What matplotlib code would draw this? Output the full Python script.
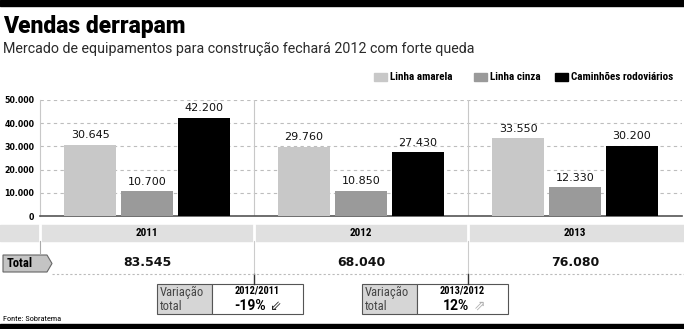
import matplotlib.pyplot as plt
from matplotlib.patches import Rectangle, Polygon

# dados
anos = ["2011", "2012", "2013"]
series = ["Linha amarela", "Linha cinza", "Caminhões rodoviários"]
linha_amarela = [30645, 29760, 33550]
linha_cinza = [10700, 10850, 12330]
caminhoes = [42200, 27430, 30200]
totais = [83545, 68040, 76080]
variacoes = [("2012/2011", "-19%", "⇙"), ("2013/2012", "12%", "⇗")]
yticks = [0, 10000, 20000, 30000, 40000, 50000]

cores = ["#c8c8c8", "#9a9a9a", "#000000"]
COND = ["Roboto Condensed", "Roboto", "DejaVu Sans"]
ROB = ["Roboto", "DejaVu Sans"]
LARGA = ["DejaVu Sans"]


def fmt(v):
    return f"{v:,}".replace(",", ".")


W, H = 684, 329
fig = plt.figure(figsize=(W / 100, H / 100), dpi=100)
fig.patch.set_facecolor("white")

# camada de desenho em pixels
ov = fig.add_axes([0, 0, 1, 1])
ov.set_xlim(0, W)
ov.set_ylim(H, 0)
ov.axis("off")

# faixas pretas de topo e base
ov.add_patch(Rectangle((0, 0), W, 6, color="black"))
ov.add_patch(Rectangle((0, 324), W, 5, color="black"))

ov.text(3, 33, "Vendas derrapam", fontsize=16.5, fontweight="black", family=ROB,
        va="baseline", ha="left")
ov.text(3, 53, "Mercado de equipamentos para construção fechará 2012 com forte queda",
        fontsize=10.3, family=ROB, color="#2a2a2a", va="baseline", ha="left")

# legenda
leg_x = [374, 474, 555]
for x, nome, c in zip(leg_x, series, cores):
    ov.add_patch(Rectangle((x, 73), 13, 8, color=c))
    ov.text(x + 16, 77.5, nome, fontsize=8, fontweight="bold", family=COND,
            va="center", ha="left")

# gráfico de barras
x0, x1, y0, y1 = 40, 682, 100, 216
ax = fig.add_axes([x0 / W, 1 - y1 / H, (x1 - x0) / W, (y1 - y0) / H])
ax.set_facecolor("none")
ax.set_xlim(-0.5, 2.5)
ax.set_ylim(0, 50000)
larg = 0.243
desl = 0.266
for i, (vals, c) in enumerate(zip([linha_amarela, linha_cinza, caminhoes], cores)):
    pos = [k + (i - 1) * desl for k in range(len(anos))]
    ax.bar(pos, vals, width=larg, color=c, zorder=3)
    for p, v in zip(pos, vals):
        ax.text(p, v + 2000, fmt(v), ha="center", va="bottom", fontsize=8,
                family=LARGA, color="#111111", zorder=4)
ax.set_yticks(yticks)
ax.set_yticklabels([fmt(v) for v in yticks], fontsize=5.7, fontweight="bold",
                   family=LARGA)
ax.tick_params(axis="y", length=0, pad=4)
ax.set_xticks([])
ax.yaxis.grid(True, linestyle=(0, (3, 3)), color="#bdbdbd", linewidth=0.8)
ax.set_axisbelow(True)
for s in ["top", "right"]:
    ax.spines[s].set_visible(False)
ax.spines["left"].set_color("#c8c8c8")
ax.spines["left"].set_linewidth(0.8)
ax.spines["bottom"].set_color("#555555")
ax.spines["bottom"].set_linewidth(1.2)
for sep in [0.5, 1.5]:
    ax.axvline(sep, color="#c8c8c8", linewidth=0.8, zorder=1)

# faixa dos anos
seps = [40, 254, 468]
ov.add_patch(Rectangle((0, 225), W, 16, color="#e0e0e0"))
for s in seps:
    ov.plot([s, s], [225, 241], color="white", linewidth=2)
centros = [147, 361, 575]
for cx, ano in zip(centros, anos):
    ov.text(cx, 233, ano, fontsize=8, fontweight="bold", family=COND,
            ha="center", va="center")

# linha de totais
ov.plot([40, 40], [241, 253], color="#aaaaaa", linewidth=0.8)
for s in seps[1:]:
    ov.plot([s, s], [241, 274], color="#cccccc", linewidth=0.8)
    ov.plot([s, s], [274, 284], color="#333333", linewidth=1)
ov.add_patch(Polygon([(3, 255), (47, 255), (52, 263.5), (47, 272), (3, 272)],
                     closed=True, facecolor="#c4c4c4", edgecolor="#666666",
                     linewidth=0.8))
ov.text(7, 263.5, "Total", fontsize=9, fontweight="bold", family=COND,
        ha="left", va="center")
for cx, t in zip(centros, totais):
    ov.text(cx, 263, fmt(t), fontsize=9, fontweight="bold", family=LARGA,
            ha="center", va="center", color="#111111")
ov.plot([52, W], [274, 274], color="#bbbbbb", linewidth=0.8,
        linestyle=(0, (2, 2)))

# quadros de variação
for bx, (per, val, seta) in zip([157, 362], variacoes):
    ov.add_patch(Rectangle((bx, 284), 55, 30, facecolor="#d6d6d6",
                           edgecolor="#555555", linewidth=0.8))
    ov.add_patch(Rectangle((bx + 55, 284), 91, 30, facecolor="white",
                           edgecolor="#555555", linewidth=0.8))
    ov.text(bx + 3, 292, "Variação", fontsize=9, family=COND,
            color="#444444", ha="left", va="center")
    ov.text(bx + 3, 306, "total", fontsize=9, family=COND,
            color="#444444", ha="left", va="center")
    cx = bx + 55 + 45.5
    ov.text(cx, 290.5, per, fontsize=7.5, fontweight="bold", family=COND,
            ha="center", va="center")
    ov.text(cx - 7, 305.5, val, fontsize=10, fontweight="bold", family=ROB,
            ha="center", va="center")
    cor_seta = "#222222" if val.startswith("-") else "#b0b0b0"
    ov.text(cx + 17, 305.5, seta, fontsize=10, color=cor_seta, ha="center",
            va="center", family="DejaVu Sans")

ov.text(3, 319, "Fonte: Sobratema", fontsize=6, family=COND, ha="left",
        va="center")

fig.savefig("out.png", dpi=100)
